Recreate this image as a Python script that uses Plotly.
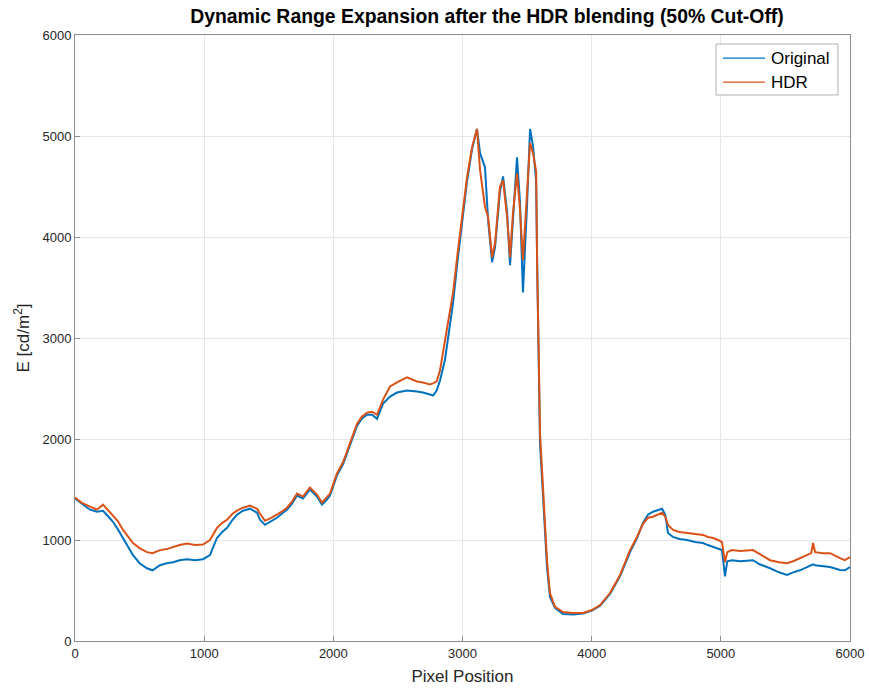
import plotly.graph_objects as go

# Pixel positions along the scan line
pixel_pos = [0, 50, 116, 170, 217, 260, 294, 330, 372, 410, 449, 500, 557, 600, 658, 710, 759, 810, 867, 930,
             991, 1045, 1099, 1140, 1177, 1220, 1254, 1300, 1355, 1409, 1432, 1471, 1520, 1564, 1600, 1641, 1680,
             1719, 1765, 1819, 1873, 1912, 1950, 1974, 2028, 2075, 2129, 2183, 2220, 2261, 2300, 2338, 2385, 2439,
             2493, 2570, 2648, 2694, 2748, 2772, 2800, 2826, 2865, 2903, 2927, 2965, 3004, 3035, 3074, 3112, 3136,
             3174, 3198, 3229, 3252, 3290, 3314, 3345, 3368, 3391, 3422, 3445, 3468, 3499, 3523, 3546, 3570, 3578,
             3585, 3592, 3600, 3623, 3639, 3654, 3677, 3716, 3778, 3856, 3933, 4002, 4065, 4142, 4219, 4297, 4351,
             4397, 4436, 4475, 4545, 4570, 4591, 4630, 4680, 4738, 4800, 4862, 4900, 4939, 4980, 5009, 5032, 5050,
             5086, 5150, 5249, 5300, 5381, 5450, 5512, 5560, 5613, 5660, 5700, 5714, 5730, 5790, 5845, 5923, 5960,
             6000]

# Luminance of the original exposure [cd/m^2]
original = [1410, 1360, 1300, 1280, 1290, 1230, 1180, 1110, 1020, 930, 850, 770, 720, 700, 750, 770, 780, 800, 810, 800,
            810, 850, 1020, 1080, 1120, 1200, 1250, 1290, 1310, 1270, 1200, 1150, 1190, 1220, 1260, 1300, 1360,
            1440, 1410, 1500, 1430, 1350, 1400, 1440, 1640, 1750, 1940, 2130, 2200, 2240, 2240, 2200, 2350, 2420,
            2460, 2480, 2470, 2460, 2440, 2430, 2480, 2580, 2790, 3110, 3350, 3800, 4250, 4550, 4870, 5070, 4830,
            4690, 4170, 3750, 3900, 4450, 4600, 4250, 3720, 4200, 4790, 4350, 3450, 4300, 5070, 4900, 4550, 3750,
            3250, 2600, 1950, 1450, 1080, 733, 436, 327, 267, 262, 272, 300, 350, 465, 640, 880, 1020,
            1170, 1250, 1280, 1310, 1250, 1070, 1030, 1010, 1000, 980, 970, 950, 930, 910, 900, 640, 790,
            800, 790, 800, 760, 720, 680, 654, 680, 700, 730, 750, 760, 750, 740, 733, 703, 700,
            733]

# Luminance after HDR blending [cd/m^2]
hdr = [1420, 1370, 1330, 1300, 1350, 1290, 1250, 1190, 1100, 1030, 970, 920, 880, 870, 900, 910, 930, 950, 965, 950,
       955, 1000, 1120, 1170, 1200, 1260, 1290, 1320, 1340, 1310, 1260, 1190, 1220, 1250, 1280, 1320, 1380,
       1460, 1430, 1520, 1450, 1370, 1420, 1460, 1660, 1770, 1960, 2150, 2220, 2260, 2270, 2240, 2390, 2520,
       2560, 2610, 2570, 2560, 2540, 2550, 2570, 2680, 2980, 3250, 3450, 3870, 4300, 4590, 4890, 5070, 4660,
       4300, 4200, 3800, 3940, 4500, 4560, 4200, 3800, 4240, 4630, 4270, 3770, 4440, 4930, 4830, 4650, 3700,
       3300, 2700, 2060, 1560, 1130, 802, 475, 337, 287, 277, 277, 307, 356, 475, 650, 900, 1030,
       1160, 1220, 1230, 1270, 1230, 1150, 1100, 1080, 1070, 1060, 1050, 1030, 1020, 1000, 980, 780, 880,
       900, 890, 900, 860, 800, 780, 770, 790, 820, 850, 870, 970, 880, 870, 870, 820, 800,
       830]

series_names = ["Original", "HDR"]
series_colors = ["#0072BD", "#D95319"]

x_ticks = [0, 1000, 2000, 3000, 4000, 5000, 6000]
y_ticks = [0, 1000, 2000, 3000, 4000, 5000, 6000]

FONT = "Liberation Sans, Arial, Helvetica, sans-serif"
AXIS_GRAY = "#8c8c8c"

fig = go.Figure()
for name, values, color in zip(series_names, [original, hdr], series_colors):
    fig.add_trace(go.Scatter(x=pixel_pos, y=values, mode="lines", name=name,
                             line=dict(color=color, width=2), showlegend=False))

# Compact MATLAB-style legend box in the upper right corner (fractions of the plot area)
box_x0, box_x1, box_y0, box_y1 = 0.8271, 0.9845, 0.9010, 0.9851
fig.add_shape(type="rect", xref="paper", yref="paper",
              x0=box_x0, x1=box_x1, y0=box_y0, y1=box_y1,
              line=dict(color="#b0b0b0", width=1), fillcolor="white", layer="above")
row_y = [0.9620, 0.9224]
for name, color, ry in zip(series_names, series_colors, row_y):
    fig.add_shape(type="line", xref="paper", yref="paper",
                  x0=0.8361, x1=0.8903, y0=ry, y1=ry,
                  line=dict(color=color, width=1.2), layer="above")
    fig.add_annotation(text=name, xref="paper", yref="paper", x=0.8955, y=ry,
                       xanchor="left", yanchor="middle", showarrow=False,
                       font=dict(family=FONT, size=17, color="#000000"))

axis_common = dict(
    showgrid=True, gridcolor="#e6e6e6", gridwidth=1,
    showline=True, linecolor=AXIS_GRAY, linewidth=1, mirror=True,
    ticks="inside", ticklen=5, tickcolor=AXIS_GRAY,
    zeroline=False, automargin=False,
    tickfont=dict(family=FONT, size=13, color="#262626"),
)

fig.update_layout(
    width=869, height=688,
    margin=dict(l=75, r=19, t=35, b=47),
    paper_bgcolor="white", plot_bgcolor="white",
    title=dict(text="<b>Dynamic Range Expansion after the HDR blending (50% Cut-Off)</b>",
               xref="container", x=0.5604, xanchor="center", y=0.977, yanchor="middle",
               font=dict(family=FONT, size=19.4, color="#000000")),
    xaxis=dict(range=[0, 6000], tickvals=x_ticks,
               title=dict(text="Pixel Position", font=dict(family=FONT, size=17, color="#262626"),
                          standoff=10),
               **axis_common),
    yaxis=dict(range=[0, 6000], tickvals=y_ticks,
               title=dict(text="E [cd/m<sup>2</sup>]", font=dict(family=FONT, size=17, color="#262626"),
                          standoff=8),
               **axis_common),
    showlegend=False,
)

fig.write_html("out.html")
